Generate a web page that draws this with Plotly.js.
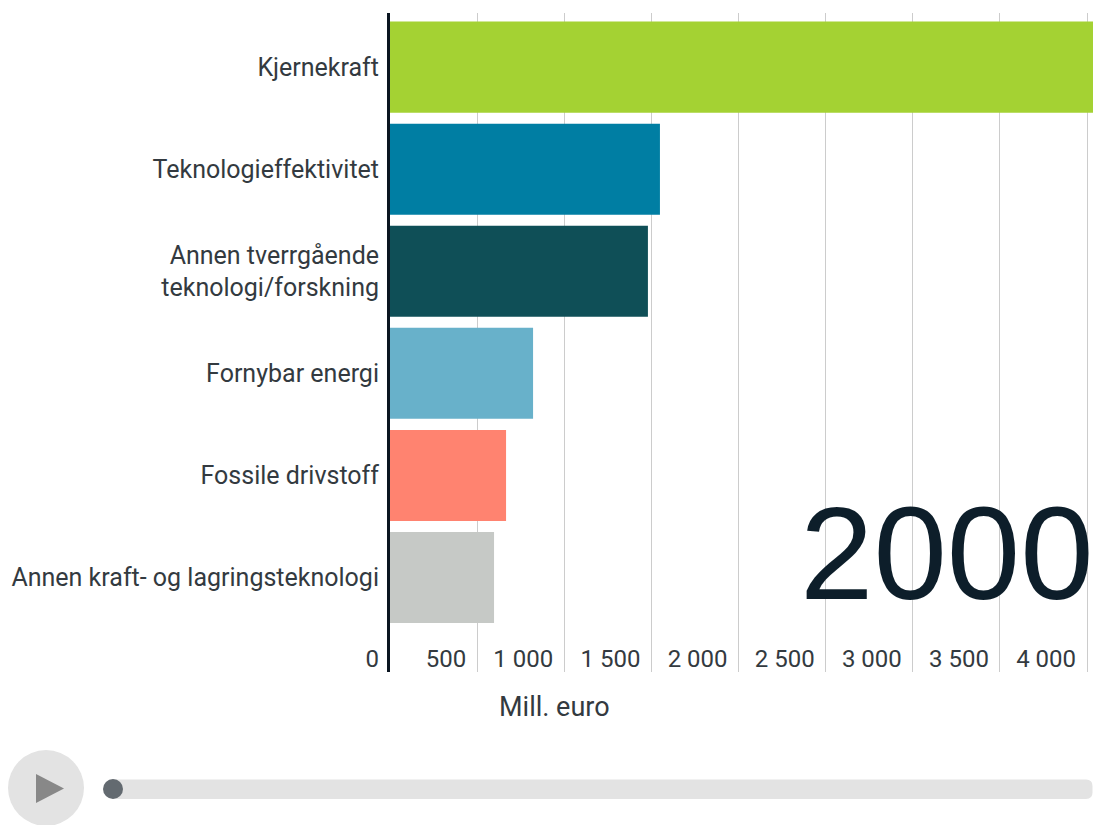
<!DOCTYPE html>
<html><head><meta charset="utf-8">
<script src="https://cdn.plot.ly/plotly-3.0.1.min.js"></script>
<style>html,body{margin:0;padding:0;background:#fff;overflow:hidden}#chart{width:1093px;height:825px}</style>
</head><body><div id="chart"></div>
<script>
const categories = ["Kjernekraft","Teknologieffektivitet","Annen tverrgående<br>teknologi/forskning","Fornybar energi","Fossile drivstoff","Annen kraft- og lagringsteknologi"];
const values = [4100,1549,1480,821,666,597];
const barColors = ["#a4d233","#007ea3","#0f4f57","#68b1ca","#ff8370","#c6c9c6"];
const tickValues = [0,500,1000,1500,2000,2500,3000,3500,4000];
const yearLabel = "2000";
const axisLabel = "Mill. euro";
const W = 1093, H = 825, L = 390, T = 13, B = 672;
const fx = p => (p - L) / (W - L);
const fy = p => (B - p) / (B - T);
const font = "Roboto, sans-serif";
const trace = {type:"bar",orientation:"h",y:categories,x:values,marker:{color:barColors},hoverinfo:"x+y"};
const trackPath = `M ${fx(112)} ${fy(779.5)} L ${fx(1086)} ${fy(779.5)} Q ${fx(1092.5)} ${fy(779.5)} ${fx(1092.5)} ${fy(786)} L ${fx(1092.5)} ${fy(792.5)} Q ${fx(1092.5)} ${fy(799)} ${fx(1086)} ${fy(799)} L ${fx(112)} ${fy(799)} Z`;
const layout = {
  width:W,height:H,margin:{l:L,r:0,t:T,b:H-B},paper_bgcolor:"#fff",plot_bgcolor:"#fff",
  showlegend:false,bargap:0.108,separators:", ",
  font:{family:font,size:25,color:"#333a40"},
  xaxis:{range:[0,4034],tickmode:"array",tickvals:tickValues,tickformat:",d",ticklabelposition:"outside left",
    anchor:"free",position:fy(642),ticklabelshift:-11,
    showgrid:true,gridcolor:"#cccccc",gridwidth:1,zeroline:false,showline:false,ticks:"",
    tickfont:{family:font,size:24,color:"#333a40"}},
  yaxis:{type:"category",categoryorder:"array",categoryarray:categories,range:[5.926,-0.53],
    showline:true,linecolor:"#0a1520",linewidth:3,showgrid:false,zeroline:false,ticks:"",ticklabelstandoff:3,
    tickfont:{family:font,size:25,color:"#333a40"}},
  annotations:[
    {xref:"paper",yref:"paper",x:fx(1096),y:fy(553),xanchor:"right",yanchor:"middle",showarrow:false,text:yearLabel,
     font:{family:"Liberation Sans, Arial, sans-serif",size:132,color:"#0d1e2a"}},
    {xref:"paper",yref:"paper",x:fx(554),y:fy(707),xanchor:"center",yanchor:"middle",showarrow:false,text:axisLabel,
     font:{family:font,size:27,color:"#333a40"}}
  ],
  shapes:[
    {type:"circle",xref:"paper",yref:"paper",x0:fx(8),x1:fx(84),y0:fy(750),y1:fy(826),fillcolor:"#e3e3e3",line:{width:0},layer:"above"},
    {type:"path",xref:"paper",yref:"paper",path:`M ${fx(36)} ${fy(774)} L ${fx(64)} ${fy(788.5)} L ${fx(36)} ${fy(803)} Z`,fillcolor:"#888888",line:{width:0},layer:"above"},
    {type:"path",xref:"paper",yref:"paper",path:trackPath,fillcolor:"#e3e3e3",line:{width:0},layer:"above"},
    {type:"circle",xref:"paper",yref:"paper",x0:fx(103),x1:fx(123),y0:fy(779),y1:fy(799),fillcolor:"#636a70",line:{width:0},layer:"above"}
  ]
};
Plotly.newPlot("chart",[trace],layout,{displayModeBar:false,responsive:false});
</script></body></html>
